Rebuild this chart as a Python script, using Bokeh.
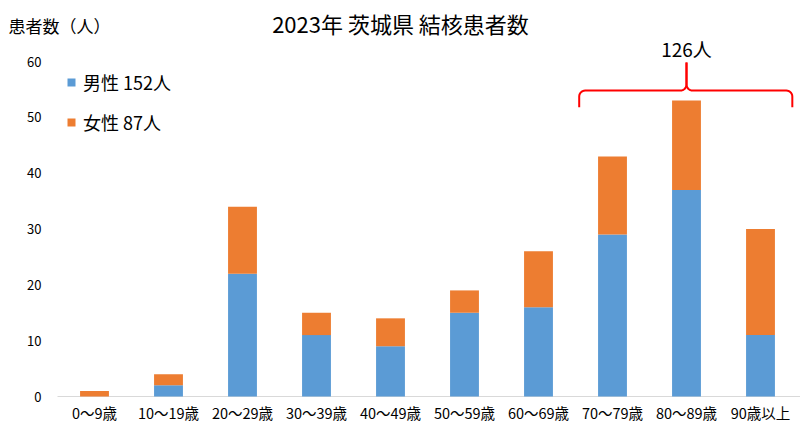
import numpy as np
from bokeh.plotting import figure
from bokeh.models import Range1d, Legend, LegendItem, Label, ColumnDataSource
from bokeh.embed import file_html
from bokeh.resources import INLINE
from bokeh.core.properties import value

# ---- data ----
categories = ["0～9歳", "10～19歳", "20～29歳", "30～39歳", "40～49歳",
              "50～59歳", "60～69歳", "70～79歳", "80～89歳", "90歳以上"]
male = [0, 2, 22, 11, 9, 15, 16, 29, 37, 11]
female = [1, 2, 12, 4, 5, 4, 10, 14, 16, 19]
y_ticks = [0, 10, 20, 30, 40, 50, 60]
series_names = ["男性", "女性"]
bracket_groups = ["70～79歳", "80～89歳", "90歳以上"]

title_text = "2023年 茨城県 結核患者数"
y_title = "患者数（人）"

BLUE = "#5B9BD5"
ORANGE = "#ED7D31"
FONT = "Noto Sans CJK JP"

FW, FH = 800, 433            # the frame is the whole drawing
px_per_cat = 74.0
px_per_unit = 335.0 / 60.0
first_center_px = 94.0       # first category centre from left edge
zero_px_from_bottom = 37.0   # value 0 above the bottom edge

x = list(range(len(categories)))
src = ColumnDataSource(dict(x=x, male=male, female=female))

x_start = -first_center_px / px_per_cat
x_end = x_start + FW / px_per_cat
y_start = -zero_px_from_bottom / px_per_unit
y_end = y_start + FH / px_per_unit

p = figure(frame_width=FW, frame_height=FH, output_backend="svg",
           toolbar_location=None,
           x_range=Range1d(x_start, x_end), y_range=Range1d(y_start, y_end),
           min_border_left=0, min_border_right=0, min_border_top=0,
           min_border_bottom=0)
p.outline_line_color = None
p.xgrid.grid_line_color = None
p.ygrid.grid_line_color = None
p.background_fill_color = "white"
p.border_fill_color = "white"
p.xaxis.visible = False
p.yaxis.visible = False

renderers = p.vbar_stack(["male", "female"], x="x", width=0.39,
                         color=[BLUE, ORANGE], line_color=None, source=src)

# category axis: baseline + labels
p.segment(x0=[-0.5], x1=[x_end], y0=[0], y1=[0], line_color="#D9D9D9",
          line_width=1, level="underlay")
x_lab_y = -16 / px_per_unit
p.text(x=x, y=[x_lab_y] * len(x), text=categories,
       text_font=value(FONT), text_font_size="14.5px", text_align="center",
       text_baseline="middle", text_color="#000000")

# value axis labels
y_lab_x = -0.5 - 16 / px_per_cat
p.text(x=[y_lab_x] * len(y_ticks), y=y_ticks, text=[str(t) for t in y_ticks],
       text_font=value(FONT), text_font_size="13px", text_align="right",
       text_baseline="middle", text_color="#000000")

# legend
totals = [m + f for m, f in zip(male, female)]
legend = Legend(items=[
    LegendItem(label=f"{series_names[0]} {sum(male)}人", renderers=[renderers[0]]),
    LegendItem(label=f"{series_names[1]} {sum(female)}人", renderers=[renderers[1]]),
], location=(66, 298), orientation="vertical")
legend.glyph_width = 10
legend.glyph_height = 10
legend.label_height = 20
legend.spacing = 14
legend.padding = 0
legend.margin = 0
legend.border_line_color = None
legend.background_fill_alpha = 0
legend.label_text_font = FONT
legend.label_text_font_size = "18px"
legend.label_text_color = "#000000"
legend.label_standoff = 7
p.add_layout(legend, "center")

# bracket over the last groups
idx = [categories.index(g) for g in bracket_groups]
x0 = idx[0] - 0.45
x1 = idx[-1] + 0.43
xm = float(np.mean(idx))
top = max(totals[i] for i in idx)
y_end_b = top - 1.2
y_base = top + 1.8
y_peak = top + 6.8
rx = 6 / px_per_cat
ry = 6 / px_per_unit

def arc(cx, cy, a0, a1, n=8):
    t = np.radians(np.linspace(a0, a1, n))
    return list(cx + rx * np.cos(t)), list(cy + ry * np.sin(t))

lx, ly = [x0], [y_end_b]
ax, ay = arc(x0 + rx, y_base - ry, 180, 90)
lx += ax; ly += ay
bx, by = arc(xm - rx, y_base + ry, -90, 0)
lx += bx; ly += by
lx.append(xm); ly.append(y_peak)

rxs, rys = [xm], [y_peak]
cx_, cy_ = arc(xm + rx, y_base + ry, 180, 270)
rxs += cx_; rys += cy_
dx_, dy_ = arc(x1 - rx, y_base - ry, 90, 0)
rxs += dx_; rys += dy_
rxs.append(x1); rys.append(y_end_b)

p.multi_line(xs=[lx, rxs], ys=[ly, rys], line_color="#FF0000", line_width=2)

p.add_layout(Label(x=xm, y=y_peak + 2.6, text=f"{sum(totals[i] for i in idx)}人",
                   text_font=FONT, text_font_size="19px", text_align="center",
                   text_baseline="middle", text_color="#000000"))

# titles (screen units from frame bottom-left)
p.add_layout(Label(x=400, y=FH - 22, x_units="screen", y_units="screen",
                   text=title_text, text_font=FONT, text_font_size="22px",
                   text_align="center", text_baseline="middle",
                   text_color="#000000"))
p.add_layout(Label(x=8, y=FH - 25, x_units="screen", y_units="screen",
                   text=y_title, text_font=FONT, text_font_size="17px",
                   text_align="left", text_baseline="middle",
                   text_color="#000000"))

open("out.html", "w").write(file_html(p, INLINE))
